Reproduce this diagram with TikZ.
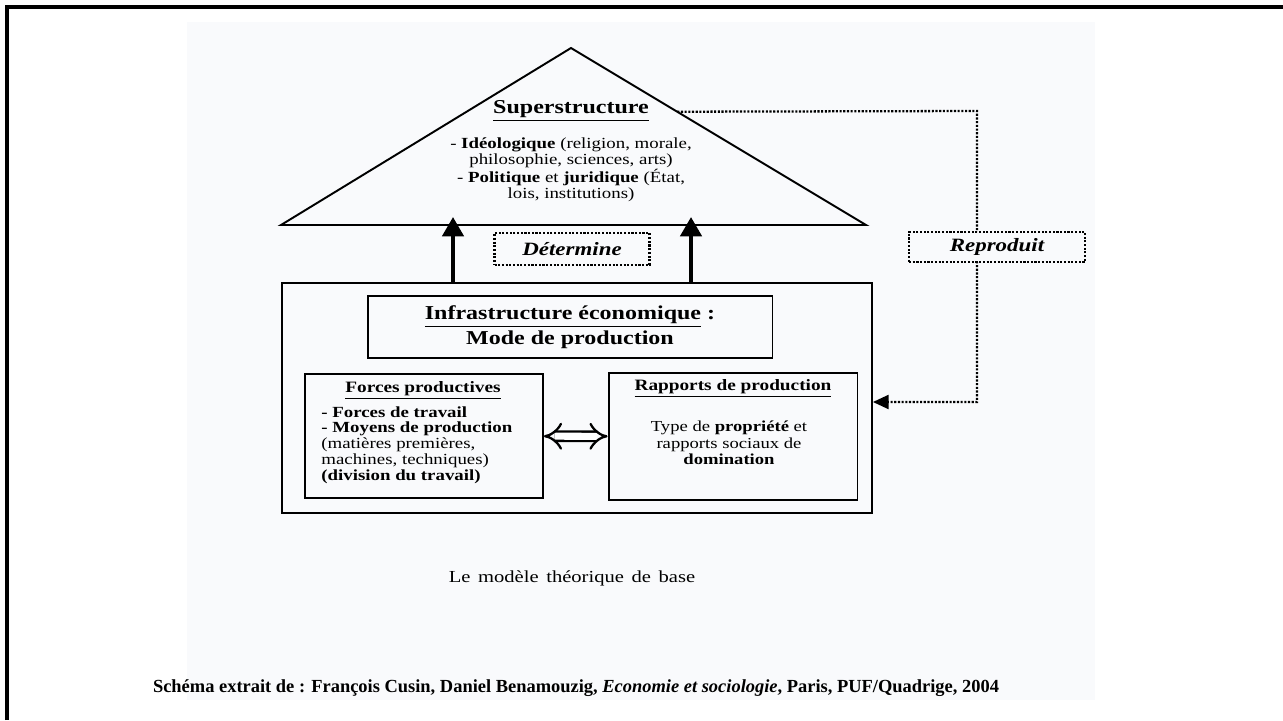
\documentclass[tikz,border=0pt]{standalone}
\usepackage{fontspec}
\setmainfont{Liberation Serif}[FakeStretch=1.22]
\newfontfamily\sourcefont{Liberation Serif}
\usetikzlibrary{arrows.meta,calc,positioning}
\definecolor{scan}{RGB}{249,250,252}

\tikzset{
  cadre/.style={draw, line width=1.1pt, inner sep=0pt},
  pointille/.style={line width=1.3pt, dash pattern=on 1.2pt off 0.9pt},
  boitept/.style={pointille, draw, fill=scan, inner sep=0pt},
  flechehaut/.style={line width=2.4pt, -{Triangle[length=11pt, width=12pt]}},
  texte/.style={align=center, inner sep=0pt, font=\fontsize{8.8}{9}\selectfont},
}

\begin{document}
\begin{tikzpicture}[x=0.02cm, y=-0.02cm]
	\useasboundingbox (0,0) rectangle (1283,720);
	% page scannee et cadre
	\fill [scan] (187,22) rectangle (1095,700);
	\draw [line width=1.8pt] (7,720) -- (7,7) -- (1283,7);
	% superstructure
	\coordinate (sommet) at (571,48);
	\coordinate (baseG) at (281,225);
	\coordinate (baseD) at (866,225);
	\draw [line width=1.1pt] (baseG) -- (sommet) -- (baseD) -- cycle;
	\node (super) [font=\fontsize{11.2}{13}\selectfont\bfseries] at (571,111) {\underline{Superstructure}};
	\node (superTxt) [texte] at (571,170) {- \textbf{Idéologique} (religion, morale,\\ philosophie, sciences, arts)\\
		- \textbf{Politique} et \textbf{juridique} (État,\\ lois, institutions)};
	% infrastructure
	\node (infra) [cadre, minimum width=11.8cm, minimum height=4.6cm] at (577,398) {};
	\node (mode) [cadre, minimum width=8.1cm, minimum height=1.24cm, align=center,
		font=\fontsize{11.2}{14}\selectfont\bfseries] at (570,327) {\underline{Infrastructure économique} :\\ Mode de production};
	\node (forces) [cadre, minimum width=4.76cm, minimum height=2.48cm] at (424,436) {};
	\node (rapports) [cadre, minimum width=4.98cm, minimum height=2.54cm] at (733,436.5) {};
	\node (forcesTitre) [font=\fontsize{9}{10}\selectfont\bfseries] at (423,390) {\underline{Forces productives}};
	\node (forcesTxt) [texte, anchor=west, align=left] at (321,445)
		{\textbf{- Forces de travail}\\ \textbf{- Moyens de production}\\
		(matières premières,\\ machines, techniques)\\ \textbf{(division du travail)}};
	\node (rapportsTitre) [font=\fontsize{9}{10}\selectfont\bfseries] at (733,388) {\underline{Rapports de production}};
	\node (rapportsTxt) [texte, font=\fontsize{8.7}{9.4}\selectfont] at (729,443)
		{Type de \textbf{propriété} et\\ rapports sociaux de\\ \textbf{domination}};
	\draw [line width=1.3pt, double, double distance=4pt, {Implies[length=9pt, width=15pt]}-{Implies[length=9pt, width=15pt]}] (forces) -- (rapports);
	% determine
	\draw [flechehaut] (453,283) -- (453,217);
	\draw [flechehaut] (691,283) -- (691,217);
	\node (determine) [boitept, minimum width=3.1cm, minimum height=0.64cm,
		font=\fontsize{10.7}{12}\selectfont\bfseries\itshape] at (572,249) {Détermine};
	% reproduit
	\coordinate (depart) at ($(sommet)!0.36!(baseD)$);
	\coordinate (coinH) at (977,111);
	\coordinate (coinB) at (977,402);
	\draw [pointille, -{Triangle[length=9pt, width=8pt]}] (depart) -- (coinH) -- (coinB) -- (coinB -| infra.east);
	\node (reproduit) [boitept, minimum width=3.52cm, minimum height=0.6cm,
		font=\fontsize{10.7}{12}\selectfont\bfseries\itshape] at (997,247) {Reproduit};
	% legendes
	\node (titre) [font=\fontsize{9.6}{11}\selectfont] at (572,578) {Le\hspace{0.45em}modèle\hspace{0.45em}théorique\hspace{0.45em}de\hspace{0.45em}base};
	\node (source) [font=\sourcefont\fontsize{10.5}{12}\selectfont\bfseries] at (576,688)
		{Schéma extrait de : François Cusin, Daniel Benamouzig, \textit{Economie et sociologie}, Paris, PUF/Quadrige, 2004};
\end{tikzpicture}
\end{document}
